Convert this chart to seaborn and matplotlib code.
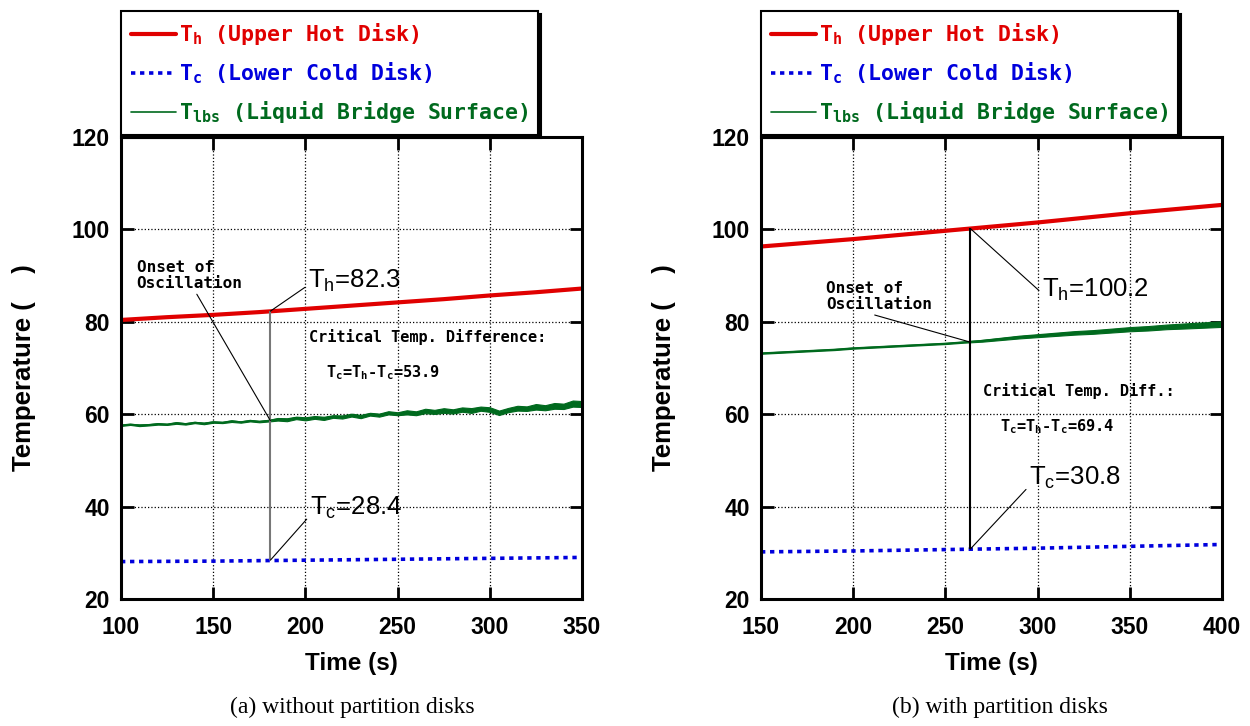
import numpy as np
import pandas as pd
import matplotlib
matplotlib.use("Agg")
import matplotlib.pyplot as plt
import seaborn as sns

# ---------------- data ----------------
# panel (a) without partition disks
a_time_hc = [100, 125, 150, 175, 200, 225, 250, 275, 300, 325, 350]
a_th = [80.4, 81.0, 81.5, 82.1, 82.8, 83.5, 84.2, 84.9, 85.7, 86.4, 87.2]
a_tc = [28.1, 28.15, 28.2, 28.3, 28.4, 28.5, 28.6, 28.7, 28.8, 28.9, 29.0]
a_time_l = list(range(100, 351, 5))
a_tlbs_mid = [57.6, 57.8, 57.6, 57.7, 57.9, 57.8, 58.1, 57.9, 58.2, 58.0,
              58.3, 58.2, 58.5, 58.3, 58.6, 58.4, 58.6, 58.9, 58.8, 59.2,
              59.0, 59.3, 59.1, 59.5, 59.4, 59.8, 59.5, 60.0, 59.8, 60.3,
              60.1, 60.4, 60.2, 60.7, 60.5, 60.8, 60.6, 61.0, 60.8, 61.2,
              61.0, 60.3, 60.9, 61.3, 61.2, 61.6, 61.4, 61.8, 61.7, 62.3, 62.2]
a_tlbs_spread = [0.15, 0.12, 0.18, 0.14, 0.16, 0.12, 0.18, 0.15, 0.14, 0.17,
                 0.15, 0.13, 0.18, 0.14, 0.16, 0.15, 0.18, 0.28, 0.32, 0.27,
                 0.33, 0.30, 0.35, 0.28, 0.34, 0.31, 0.36, 0.30, 0.33, 0.35,
                 0.32, 0.45, 0.42, 0.48, 0.44, 0.50, 0.46, 0.47, 0.52, 0.45,
                 0.50, 0.48, 0.46, 0.52, 0.49, 0.60, 0.55, 0.62, 0.58, 0.66, 0.64]
a_onset = 181
a_th_onset = 82.3
a_tc_onset = 28.4
a_dT = 53.9

# panel (b) with partition disks
b_time_hc = [150, 175, 200, 225, 250, 275, 300, 325, 350, 375, 400]
b_th = [96.3, 97.1, 97.9, 98.8, 99.7, 100.6, 101.5, 102.5, 103.5, 104.4, 105.3]
b_tc = [30.2, 30.3, 30.4, 30.55, 30.7, 30.85, 31.0, 31.2, 31.4, 31.6, 31.8]
b_time_l = list(range(150, 401, 10))
b_tlbs_mid = [73.2, 73.4, 73.6, 73.8, 74.0, 74.3, 74.5, 74.7, 74.9, 75.1,
              75.3, 75.6, 75.9, 76.3, 76.7, 77.0, 77.3, 77.6, 77.8, 78.1,
              78.4, 78.6, 78.9, 79.1, 79.3, 79.5]
b_tlbs_spread = [0.12, 0.12, 0.12, 0.12, 0.12, 0.12, 0.12, 0.12, 0.12, 0.12,
                 0.12, 0.12, 0.20, 0.25, 0.30, 0.32, 0.35, 0.38, 0.40, 0.42,
                 0.45, 0.48, 0.50, 0.55, 0.58, 0.60]
b_onset = 263.5
b_th_onset = 100.2
b_tc_onset = 30.8
b_dT = 69.4

# ---------------- style ----------------
sns.set_style("ticks")
plt.rcParams['font.family'] = ['Liberation Sans', 'DejaVu Sans']
plt.rcParams['axes.linewidth'] = 2.2
for k in ['text.color', 'axes.labelcolor', 'xtick.color', 'ytick.color',
          'axes.edgecolor']:
    plt.rcParams[k] = 'black'

RED = '#e00000'
BLUE = '#0000dd'
GREEN = '#006a1e'
MONO = 'DejaVu Sans Mono'

fig = plt.figure(figsize=(12.5, 7.26), dpi=100)
W, H = 1250, 726


def panel(ax, t_hc, th, tc, t_l, lmid, lspread, onset, th_on, tc_on, dT,
          xlim, xticks, vline_color, txt):
    df = pd.DataFrame({'t': t_hc, 'Th': th, 'Tc': tc})
    dl = pd.DataFrame({'t': t_l, 'mid': lmid, 'sp': lspread})
    dl['lo'] = dl['mid'] - dl['sp']
    dl['hi'] = dl['mid'] + dl['sp']

    sns.lineplot(data=df, x='t', y='Th', ax=ax, color=RED, lw=3.0,
                 label=r'T$_\mathregular{h}$ (Upper Hot Disk)')
    sns.lineplot(data=df, x='t', y='Tc', ax=ax, color=BLUE, lw=2.6,
                 linestyle=(0, (1.2, 1.3)),
                 label=r'T$_\mathregular{c}$ (Lower Cold Disk)')
    ax.fill_between(dl['t'], dl['lo'], dl['hi'], color=GREEN, lw=0.8,
                    edgecolor=GREEN)
    sns.lineplot(data=dl, x='t', y='mid', ax=ax, color=GREEN, lw=1.2,
                 label=r'T$_\mathregular{lbs}$ (Liquid Bridge Surface)')

    ax.set_xlim(*xlim)
    ax.set_ylim(20, 120)
    ax.set_xticks(xticks)
    ax.set_yticks([20, 40, 60, 80, 100, 120])
    ax.grid(True, ls=':', color='k', lw=0.9)
    ax.tick_params(axis='both', which='both', direction='in', top=True,
                   right=True, length=9, width=2, colors='black')
    ax.tick_params(axis='x', pad=12)
    ax.tick_params(axis='y', pad=8)
    for lab in ax.get_xticklabels() + ax.get_yticklabels():
        lab.set_fontsize(16.5)
        lab.set_fontweight('bold')
    ax.set_xlabel('Time (s)', fontsize=17.5, fontweight='bold')
    ax.set_ylabel('Temperature (    )', fontsize=18.5, fontweight='bold')
    ax.xaxis.set_label_coords(0.5, -0.115)
    ax.yaxis.set_label_coords(-0.185, 0.5)

    # onset vertical line
    ax.vlines(onset, tc_on, th_on, color=vline_color, lw=1.5, zorder=3)

    arrow = dict(arrowstyle='-', color='k', lw=0.8, shrinkA=0, shrinkB=0)
    ax.annotate(r'T$_\mathregular{h}$=' + f'{th_on:.1f}', xy=(onset, th_on),
                xytext=txt['th'], fontsize=18.5, ha='left', va='center',
                arrowprops=dict(arrow, relpos=(0, 0.35)))
    ax.annotate(r'T$_\mathregular{c}$=' + f'{tc_on:.1f}', xy=(onset, tc_on),
                xytext=txt['tc'], fontsize=18.5, ha='left', va='center',
                arrowprops=dict(arrow, relpos=(0, 0.2)))
    on_mid = dl['mid'].iloc[(dl['t'] - onset).abs().argmin()]
    ax.annotate('Onset of\nOscillation', xy=(onset, on_mid),
                xytext=txt['onset'], fontsize=11.5, fontweight='bold',
                family=MONO, ha='left', va='top', linespacing=1.05,
                arrowprops=dict(arrow, relpos=(txt['onset_rel'], 0)))
    ax.text(*txt['crit'], txt['crit_s'], fontsize=11, fontweight='bold',
            family=MONO, ha='left', va='center')
    ax.text(*txt['dT'],
            r'T$_\mathregular{c}$=T$_\mathregular{h}$-T$_\mathregular{c}$=' + f'{dT:.1f}',
            fontsize=11, fontweight='bold', family=MONO, ha='left', va='center')

    leg = ax.legend(loc='lower left', bbox_to_anchor=(0.0, 1.004),
                    borderaxespad=0, frameon=True, fancybox=False,
                    shadow={'color': 'black', 'alpha': 1.0},
                    prop={'family': MONO, 'weight': 'bold', 'size': 15.5},
                    handlelength=2.1, handletextpad=0.15, labelspacing=0.62,
                    borderpad=0.45)
    leg.get_frame().set_edgecolor('black')
    leg.get_frame().set_linewidth(1.5)
    for text, col in zip(leg.get_texts(), [RED, BLUE, GREEN]):
        text.set_color(col)


axL = fig.add_axes([121 / W, 1 - 599 / H, 461 / W, 462 / H])
axR = fig.add_axes([761 / W, 1 - 599 / H, 461 / W, 462 / H])

panel(axL, a_time_hc, a_th, a_tc, a_time_l, a_tlbs_mid, a_tlbs_spread,
      a_onset, a_th_onset, a_tc_onset, a_dT, (100, 350),
      [100, 150, 200, 250, 300, 350], '#777777',
      {'th': (201.5, 88.8), 'tc': (202.5, 39.8), 'onset': (108.5, 93.3),
       'onset_rel': 0.55, 'crit': (202.0, 76.7),
       'crit_s': 'Critical Temp. Difference:', 'dT': (211.0, 68.9)})

panel(axR, b_time_hc, b_th, b_tc, b_time_l, b_tlbs_mid, b_tlbs_spread,
      b_onset, b_th_onset, b_tc_onset, b_dT, (150, 400),
      [150, 200, 250, 300, 350, 400], 'black',
      {'th': (302.5, 87.0), 'tc': (295.5, 46.2), 'onset': (185.3, 88.8),
       'onset_rel': 0.35, 'crit': (270.4, 65.0),
       'crit_s': 'Critical Temp. Diff.:', 'dT': (279.6, 57.2)})

fig.text(352 / W, 1 - 707 / H, '(a) without partition disks',
         family='Liberation Serif', fontsize=17, ha='center', va='center')
fig.text(1000 / W, 1 - 707 / H, '(b) with partition disks',
         family='Liberation Serif', fontsize=17, ha='center', va='center')

fig.savefig('out.png', dpi=100)
